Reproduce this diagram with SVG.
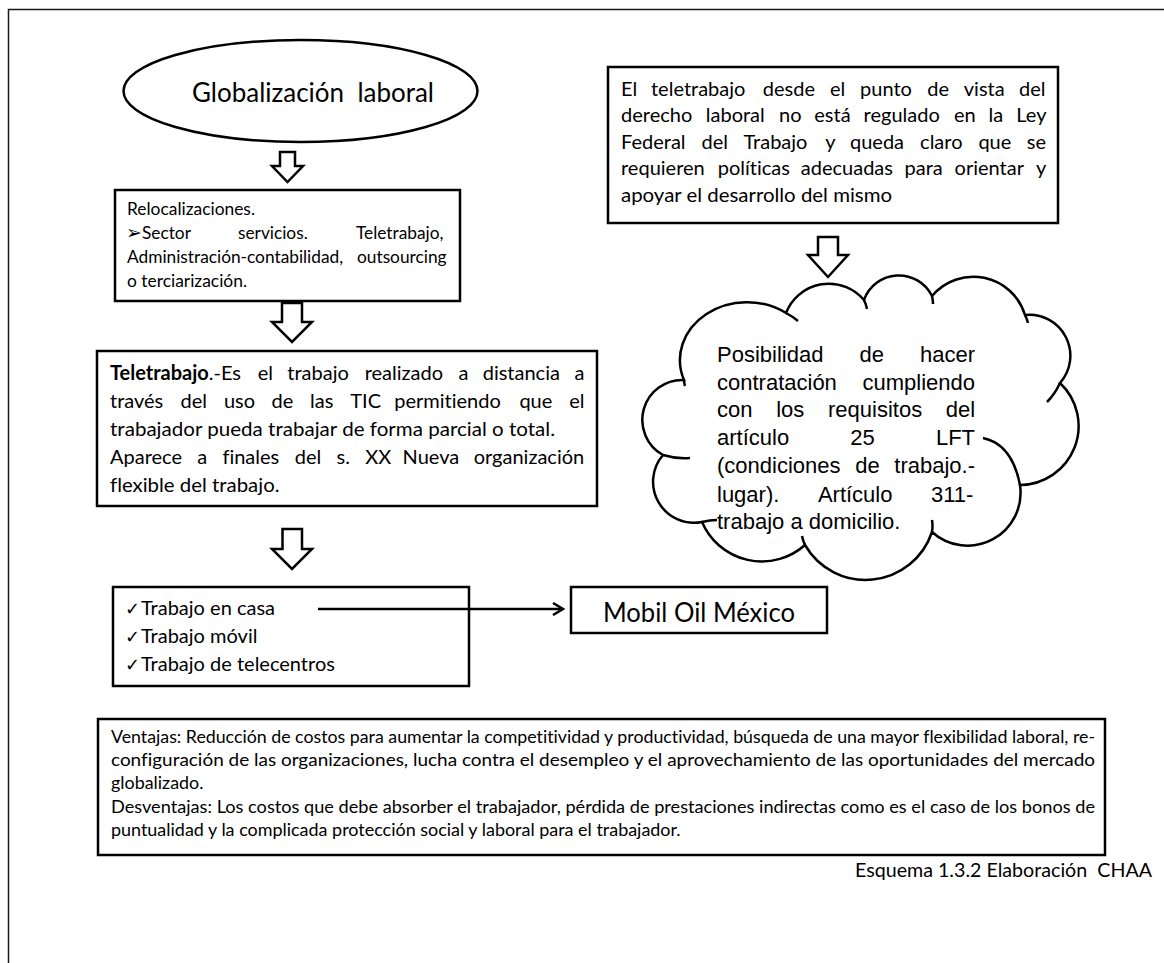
<svg xmlns="http://www.w3.org/2000/svg" width="1164" height="963" viewBox="0 0 1164 963">
<style>
.box{fill:#fff;stroke:#000;stroke-width:2.5}
.ha{fill:#fff;stroke:#000;stroke-width:2.5;stroke-linejoin:miter}
.t{font-family:Lato,"DejaVu Sans",sans-serif;fill:#000;font-variant-ligatures:none;font-feature-settings:"liga" 0,"clig" 0}
.a{font-family:"Liberation Sans",Arial,sans-serif;font-size:22px;fill:#000}
.hook{fill:none;stroke:#000;stroke-width:2.5}
.ck{font-family:"DejaVu Sans",sans-serif}
</style>
<defs>
<marker id="arr" viewBox="0 0 14 14" refX="12" refY="7" markerWidth="14" markerHeight="14" markerUnits="userSpaceOnUse" orient="auto">
<path d="M2,1 L12,7 L2,13" fill="none" stroke="#000" stroke-width="2.5"/>
</marker>
</defs>
<rect width="1164" height="963" fill="#fff"/>
<path d="M8.5 963 V9.5 H1164" fill="none" stroke="#1a1a1a" stroke-width="1.5"/>

<g id="globalizacion">
<ellipse class="box" cx="300.5" cy="91" rx="177" ry="51"/>
<text class="t" x="313" y="102" font-size="26" text-anchor="middle" textLength="242" lengthAdjust="spacingAndGlyphs" style="white-space:pre">Globalización  laboral</text>
</g>

<g id="relocalizaciones">
<rect class="box" x="115" y="190" width="345" height="111"/>
<g class="t" font-size="17.3">
<text x="127" y="215" textLength="128" lengthAdjust="spacingAndGlyphs">Relocalizaciones.</text>
<text y="239"><tspan x="126" class="ck" font-size="19">➢</tspan><tspan x="142">Sector</tspan><tspan x="238">servicios.</tspan><tspan x="356">Teletrabajo,</tspan></text>
<text y="263"><tspan x="127">Administración-contabilidad,</tspan><tspan x="357">outsourcing</tspan></text>
<text x="127" y="287" textLength="120" lengthAdjust="spacingAndGlyphs">o terciarización.</text>
</g>
</g>

<g id="teletrabajo">
<rect class="box" x="97" y="351" width="500" height="155"/>
<g class="t" font-size="20">
<text y="380"><tspan x="110" font-weight="bold">Teletrabajo</tspan><tspan>.-Es</tspan><tspan x="257.8">el</tspan><tspan x="287.3">trabajo</tspan><tspan x="364.7">realizado</tspan><tspan x="458.6">a</tspan><tspan x="482.7">distancia</tspan><tspan x="574.6">a</tspan></text>
<text y="408"><tspan x="110">través</tspan><tspan x="180.5">del</tspan><tspan x="223.9">uso</tspan><tspan x="271.6">de</tspan><tspan x="310.1">las</tspan><tspan x="350.3">TIC</tspan><tspan x="394.2">permitiendo</tspan><tspan x="519.4">que</tspan><tspan x="569.3">el</tspan></text>
<text x="110" y="436" textLength="445" lengthAdjust="spacingAndGlyphs">trabajador pueda trabajar de forma parcial o total.</text>
<text y="464"><tspan x="110">Aparece</tspan><tspan x="197.3">a</tspan><tspan x="222.4">finales</tspan><tspan x="294.7">del</tspan><tspan x="336.6">s.</tspan><tspan x="365.3">XX</tspan><tspan x="402.6">Nueva</tspan><tspan x="473.7">organización</tspan></text>
<text x="110" y="492" textLength="169.5" lengthAdjust="spacingAndGlyphs">flexible del trabajo.</text>
</g>
</g>

<g id="modalidades">
<rect class="box" x="113" y="587" width="356" height="99"/>
<g class="t" font-size="20">
<text y="615"><tspan x="125" class="ck" font-size="18">✓</tspan><tspan x="141">Trabajo en casa</tspan></text>
<text y="643"><tspan x="125" class="ck" font-size="18">✓</tspan><tspan x="141">Trabajo móvil</tspan></text>
<text y="671"><tspan x="125" class="ck" font-size="18">✓</tspan><tspan x="141">Trabajo de telecentros</tspan></text>
</g>
</g>

<g id="mobil">
<rect class="box" x="571" y="587" width="256" height="46"/>
<text class="t" x="699" y="622" font-size="26" text-anchor="middle" textLength="192" lengthAdjust="spacingAndGlyphs">Mobil Oil México</text>
</g>

<g id="regulacion">
<rect class="box" x="608" y="67" width="450" height="156"/>
<g class="t" font-size="20">
<text y="96"><tspan x="621">El</tspan><tspan x="651">teletrabajo</tspan><tspan x="762.8">desde</tspan><tspan x="829.9">el</tspan><tspan x="860.1">punto</tspan><tspan x="927.2">de</tspan><tspan x="963.8">vista</tspan><tspan x="1019">del</tspan></text>
<text y="122.4"><tspan x="621">derecho</tspan><tspan x="705.8">laboral</tspan><tspan x="779.1">no</tspan><tspan x="814.3">está</tspan><tspan x="863.6">regulado</tspan><tspan x="953.9">en</tspan><tspan x="988.5">la</tspan><tspan x="1016.3">Ley</tspan></text>
<text y="148.8"><tspan x="621">Federal</tspan><tspan x="701.5">del</tspan><tspan x="743.5">Trabajo</tspan><tspan x="825.3">y</tspan><tspan x="850">queda</tspan><tspan x="920.1">claro</tspan><tspan x="978.4">que</tspan><tspan x="1026.8">se</tspan></text>
<text y="175.2"><tspan x="621">requieren</tspan><tspan x="717.7">políticas</tspan><tspan x="800.8">adecuadas</tspan><tspan x="904.6">para</tspan><tspan x="954.6">orientar</tspan><tspan x="1036.1">y</tspan></text>
<text x="621" y="201.6" textLength="271" lengthAdjust="spacingAndGlyphs">apoyar el desarrollo del mismo</text>
</g>
</g>

<g id="posibilidad">
<path class="box" d="M684 380 A67 58 0 0 1 786 313 A46 46 0 0 1 864 300 A37 37 0 0 1 932 296 A54 54 0 0 1 1025 315 A41 41 0 0 1 1060 383 A59 59 0 0 1 1020 485 A53 53 0 0 1 932 532 A70 70 0 0 1 805 545 A65 65 0 0 1 702 522 A41 41 0 0 1 663 455 A40 40 0 0 1 684 380 Z"/>
<path class="hook" d="M786 313 A67 58 0 0 1 798 321 M864 300 Q866 304 867 309 M932 296 Q933 300 933 304 M1025 315 Q1027 319 1028 323 M1060 383 Q1055 394 1047 402 M983 438 Q1012 444 1020 485 M932 532 Q933 526 932 520 M805 545 Q803 541 802 536 M702 522 Q710 520 717 520 M663 455 Q676 459 690 458 M684 380 Q684 383 685 386"/>
<g class="a">
<text y="362"><tspan x="717">Posibilidad</tspan><tspan x="859.5">de</tspan><tspan x="920">hacer</tspan></text>
<text y="389.5"><tspan x="717">contratación</tspan><tspan x="862.5">cumpliendo</tspan></text>
<text y="417"><tspan x="717">con</tspan><tspan x="776.2">los</tspan><tspan x="828">requisitos</tspan><tspan x="945.8">del</tspan></text>
<text y="445"><tspan x="717">artículo</tspan><tspan x="850.3">25</tspan><tspan x="935.9">LFT</tspan></text>
<text y="473"><tspan x="717">(condiciones</tspan><tspan x="855.2">de</tspan><tspan x="894.3">trabajo.-</tspan></text>
<text y="501.5"><tspan x="717">lugar).</tspan><tspan x="817.9">Artículo</tspan><tspan x="931">311-</tspan></text>
<text x="717" y="529">trabajo a domicilio.</text>
</g>
</g>

<g id="ventajas">
<rect class="box" x="98" y="719" width="1007" height="136"/>
<g class="t" font-size="17.7">
<text x="111" y="743" textLength="984" lengthAdjust="spacingAndGlyphs">Ventajas: Reducción de costos para aumentar la competitividad y productividad, búsqueda de una mayor flexibilidad laboral, re-</text>
<text x="111" y="766.2" textLength="984" lengthAdjust="spacingAndGlyphs">configuración de las organizaciones, lucha contra el desempleo y el aprovechamiento de las oportunidades del mercado</text>
<text x="111" y="789.4" textLength="92.5" lengthAdjust="spacingAndGlyphs">globalizado.</text>
<text x="111" y="812.6" textLength="984" lengthAdjust="spacingAndGlyphs">Desventajas: Los costos que debe absorber el trabajador, pérdida de prestaciones indirectas como es el caso de los bonos de</text>
<text x="111" y="835.8" textLength="569.6" lengthAdjust="spacingAndGlyphs">puntualidad y la complicada protección social y laboral para el trabajador.</text>
</g>
</g>

<text class="t" x="1152" y="877" font-size="20" text-anchor="end" textLength="297" lengthAdjust="spacingAndGlyphs" style="white-space:pre">Esquema 1.3.2 Elaboración  CHAA</text>

<g id="connectors">
<path class="ha" d="M280 152 H295 V166 H303 L287.5 182 L272 166 H280 Z"/>
<path class="ha" d="M282 303 H302 V322 H312 L292 342 L272 322 H282 Z"/>
<path class="ha" d="M282.5 529 H302 V549 H312 L292 569 L272 549 H282.5 Z"/>
<path class="ha" d="M818 237 H838 V255 H848 L828 277 L808 255 H818 Z"/>
<line x1="318" y1="609" x2="563" y2="609" stroke="#000" stroke-width="2.5" marker-end="url(#arr)"/>
</g>
</svg>
